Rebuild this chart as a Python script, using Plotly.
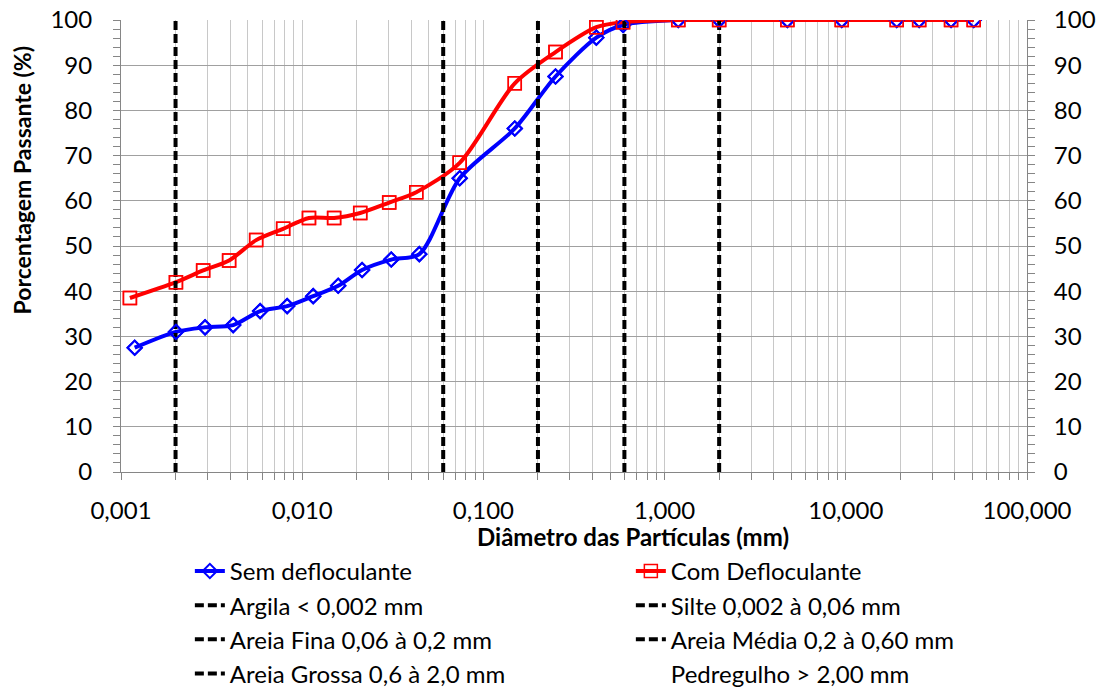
import plotly.graph_objects as go

# Data
diam_sem = [0.00119, 0.00201, 0.00291, 0.00416, 0.00586, 0.00826, 0.0115, 0.0158, 0.0214, 0.031, 0.0443,
            0.074, 0.149, 0.25, 0.42, 0.59, 1.19, 2.0, 4.76, 9.5, 19.1, 25.4, 38.1, 50.8]
pass_sem = [27.5, 31.0, 32.0, 32.5, 35.6, 36.7, 38.9, 41.2, 44.7, 47.0, 48.2,
            65.0, 76.0, 87.5, 96.1, 98.9, 100, 100, 100, 100, 100, 100, 100, 100]
diam_com = [0.00112, 0.00201, 0.00284, 0.00395, 0.00557, 0.00785, 0.0109, 0.0150, 0.0209, 0.0302, 0.0426,
            0.074, 0.149, 0.25, 0.42, 0.59, 1.19, 2.0, 4.76, 9.5, 19.1, 25.4, 38.1, 50.8]
pass_com = [38.5, 42.0, 44.6, 46.8, 51.3, 53.8, 56.2, 56.2, 57.3, 59.6, 61.9,
            68.4, 86.0, 92.9, 98.4, 99.5, 100, 100, 100, 100, 100, 100, 100, 100]

limit_names = ["Argila < 0,002 mm", "Silte 0,002 à 0,06 mm", "Areia Fina 0,06 à 0,2 mm",
               "Areia Média 0,2 à 0,60 mm", "Areia Grossa 0,6 à 2,0 mm", "Pedregulho > 2,00 mm"]
limit_vals = [0.002, 0.06, 0.2, 0.6, 2.0, 2.0]
limit_show = [True, True, True, True, True, False]

decade_vals = [0.001, 0.01, 0.1, 1, 10, 100]
decade_text = ["0,001", "0,010", "0,100", "1,000", "10,000", "100,000"]
minor_mult = [2, 3, 4, 5, 6, 7, 8, 9]

xtick_vals, xtick_text = [], []
for i, (dv, dt) in enumerate(zip(decade_vals, decade_text)):
    xtick_vals.append(dv)
    xtick_text.append(dt)
    if i < len(decade_vals) - 1:
        for k in minor_mult:
            xtick_vals.append(k * dv)
            xtick_text.append("")

FONT = "Lato"
FS = 24
fig = go.Figure()

fig.add_trace(go.Scatter(x=diam_sem, y=pass_sem, name="Sem defloculante", mode="lines+markers",
                         line=dict(color="#0000FF", width=4, shape="spline", smoothing=0.8),
                         marker=dict(symbol="diamond-open", size=11, color="#0000FF", line=dict(width=2))))
fig.add_trace(go.Scatter(x=diam_com, y=pass_com, name="Com Defloculante", mode="lines+markers",
                         line=dict(color="#FF0000", width=4, shape="spline", smoothing=0.8),
                         marker=dict(symbol="square-open", size=13, color="#FF0000", line=dict(width=1.5))))

for name, v, show in zip(limit_names, limit_vals, limit_show):
    fig.add_trace(go.Scatter(x=[v, v], y=[0, 100], name=name, mode="lines",
                             yaxis="y2" if not show else "y",
                             line=dict(color="black" if show else "rgba(0,0,0,0)", width=4,
                                       dash="9px,4px")))

# markers on top (Excel draws markers above lines)
fig.add_trace(go.Scatter(x=diam_sem, y=pass_sem, mode="markers", showlegend=False, hoverinfo="skip",
                         marker=dict(symbol="diamond-open", size=11, color="#0000FF", line=dict(width=2))))
fig.add_trace(go.Scatter(x=diam_com, y=pass_com, mode="markers", showlegend=False, hoverinfo="skip",
                         marker=dict(symbol="square-open", size=13, color="#FF0000", line=dict(width=1.5))))

axis_col = "#868686"
fig.update_layout(
    width=1098, height=691,
    margin=dict(l=121, r=71, t=20, b=219, autoexpand=False),
    paper_bgcolor="white", plot_bgcolor="white",
    font=dict(family=FONT, size=FS, color="black"),
    xaxis=dict(type="log", range=[-3, 2], tickmode="array", tickvals=xtick_vals, ticktext=xtick_text,
               showgrid=True, gridcolor="#C8C8C8", gridwidth=1,
               ticks="outside", ticklen=7, tickcolor=axis_col, ticklabelstandoff=10,
               showline=True, linecolor=axis_col, linewidth=1, zeroline=False, automargin=False),
    yaxis=dict(range=[0, 100], dtick=10, showgrid=True, gridcolor="#A0A0A0", gridwidth=1,
               ticks="outside", ticklen=7, tickcolor=axis_col, ticklabelstandoff=16,
               showline=True, linecolor=axis_col, zeroline=False, automargin=False,
               minor=dict(dtick=2, ticks="outside", ticklen=7, tickcolor=axis_col, showgrid=False)),
    yaxis2=dict(range=[0, 100], dtick=10, overlaying="y", side="right", showgrid=False,
                ticks="outside", ticklen=7, tickcolor=axis_col, ticklabelstandoff=14,
                showline=True, linecolor=axis_col, zeroline=False, automargin=False,
                minor=dict(dtick=2, ticks="outside", ticklen=7, tickcolor=axis_col, showgrid=False)),
    legend=dict(orientation="h", x=0.076, xanchor="left", y=-0.17, yanchor="top",
                entrywidth=396, entrywidthmode="pixels", font=dict(size=FS),
                bgcolor="rgba(0,0,0,0)"),
    showlegend=True,
    annotations=[
        dict(text="<b>Diâmetro das Partículas (mm)</b>", xref="paper", yref="paper",
             x=0.5, xshift=59, y=0, yshift=-64, xanchor="center", yanchor="middle",
             showarrow=False, font=dict(size=24)),
        dict(text="<b>Porcentagem Passante (%)</b>", xref="paper", yref="paper",
             x=0, xshift=-99, y=0.645, xanchor="center", yanchor="middle", textangle=-90,
             showarrow=False, font=dict(size=23)),
    ],
)

fig.write_html("out.html")
